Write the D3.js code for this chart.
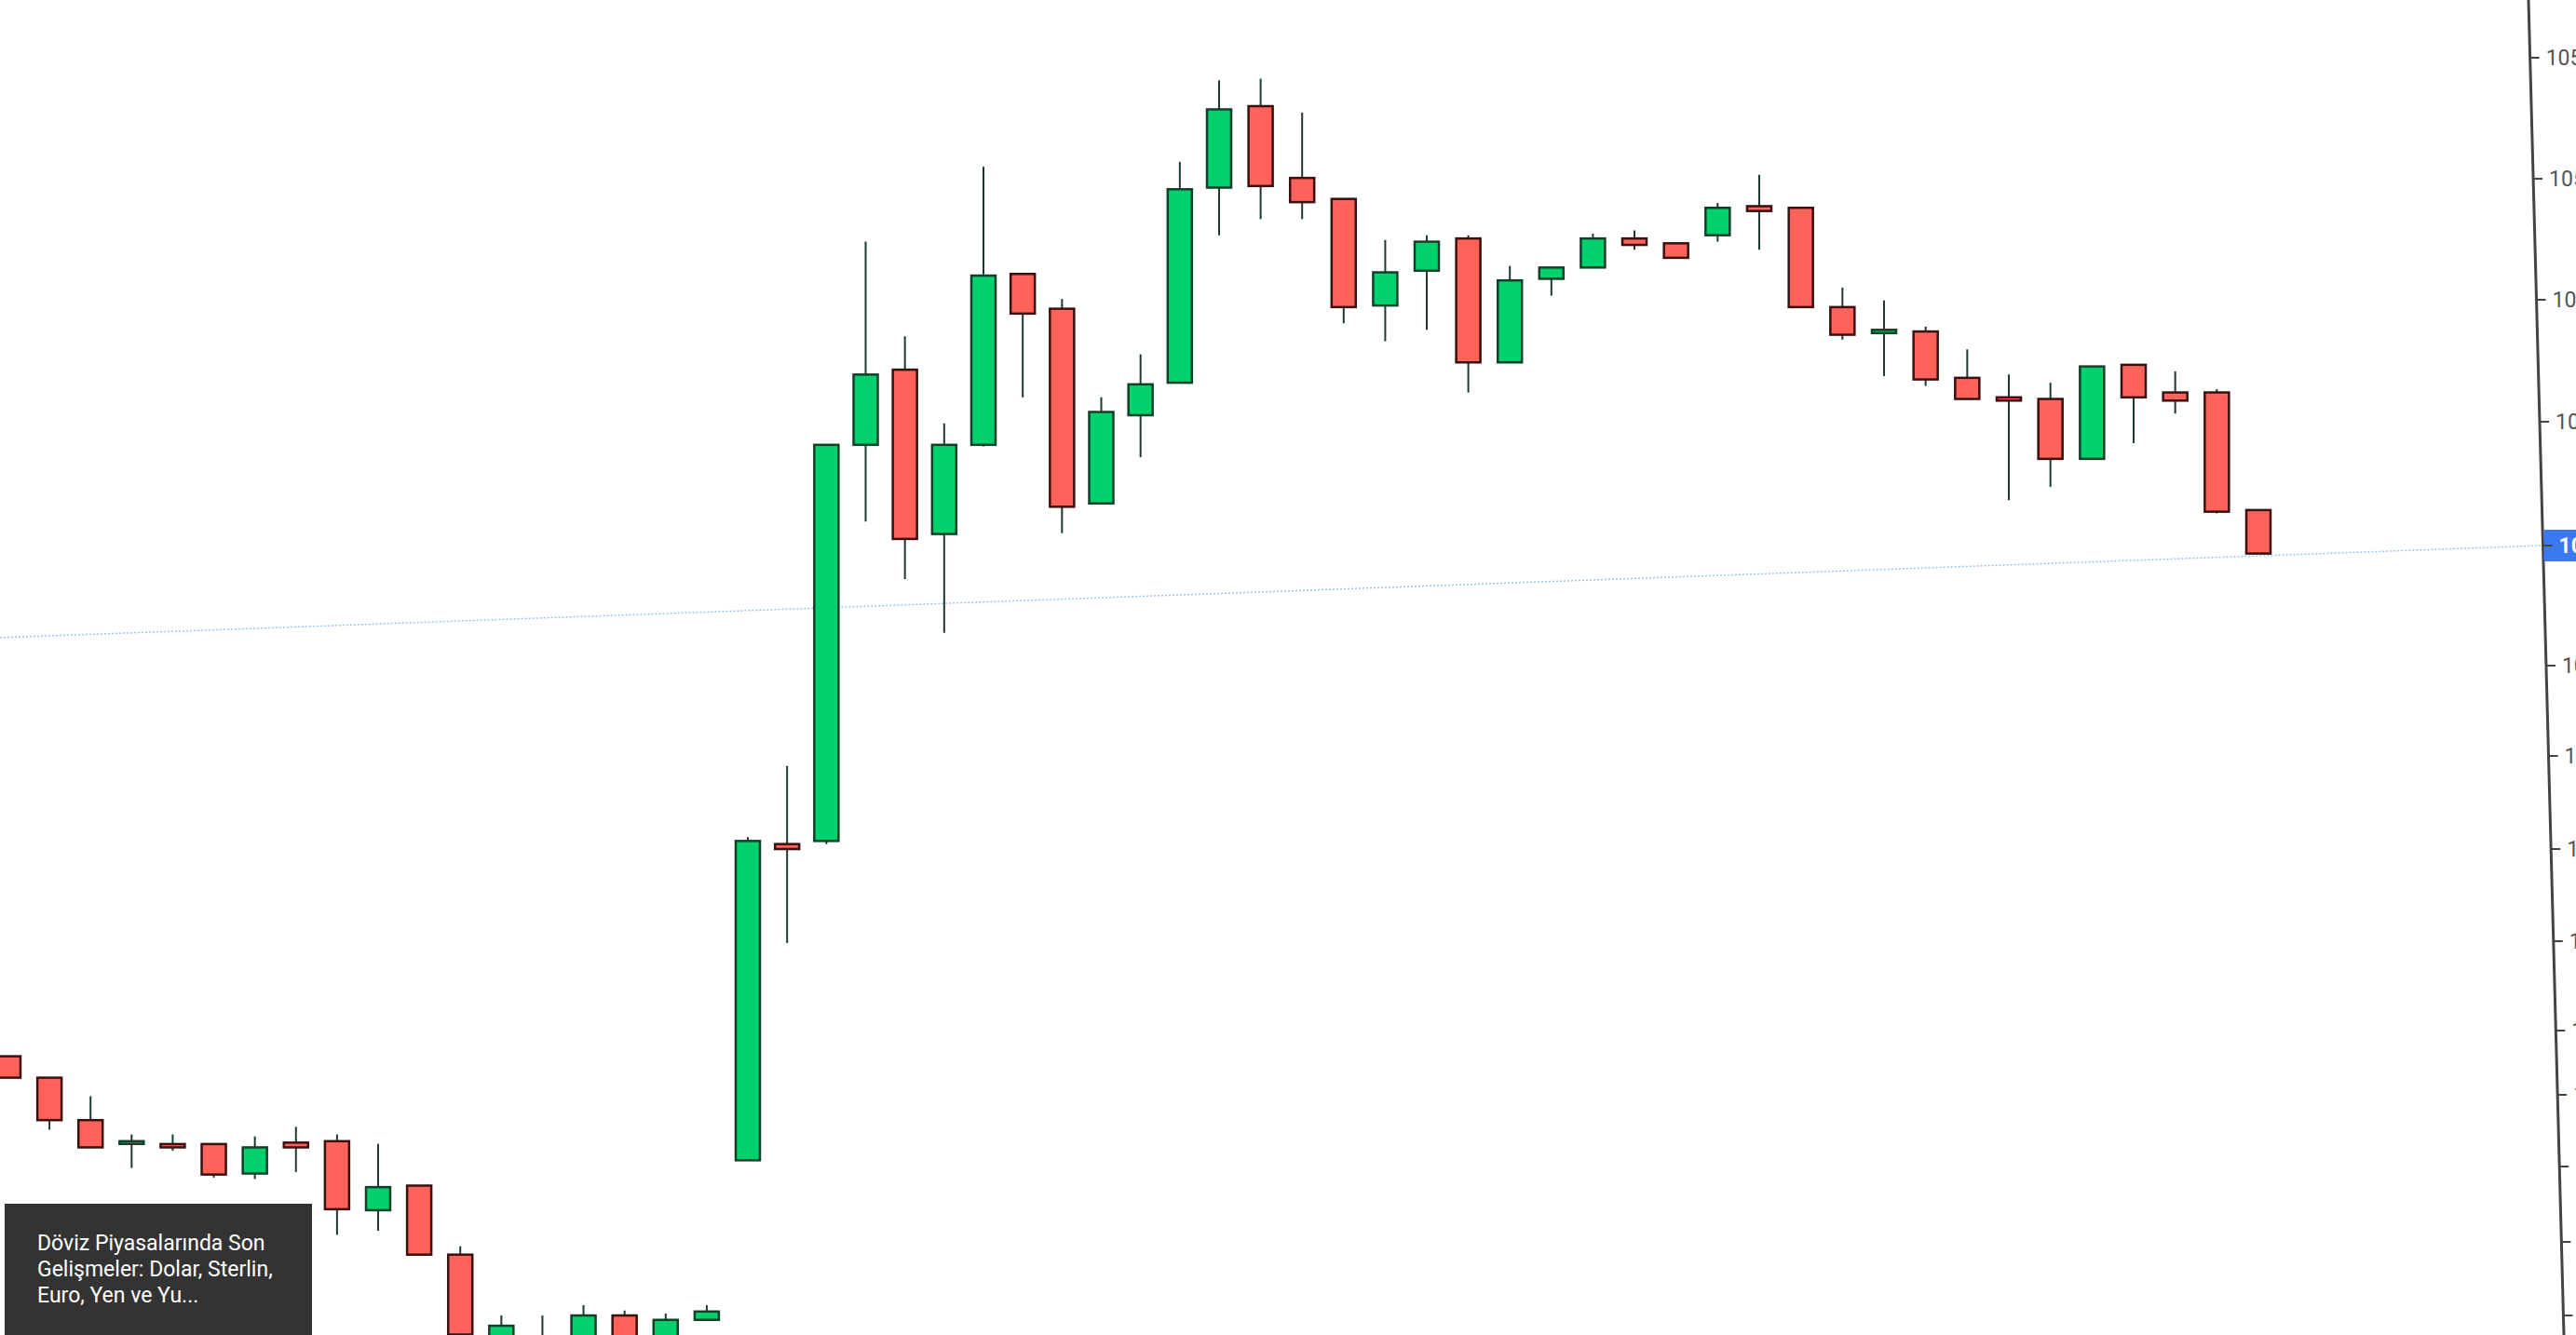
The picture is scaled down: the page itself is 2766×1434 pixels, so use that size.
<!DOCTYPE html>
<html>
<head>
<meta charset="utf-8">
<script src="https://cdn.jsdelivr.net/npm/d3@7"></script>
<style>
  body { margin: 0; background: #fff; overflow: hidden; }
</style>
</head>
<body>
<script>
var W = 2766, H = 1434;

// candle data: open, high, low, close
var opens  = [103.94,103.89,103.797,103.75,103.747,103.747,103.686,103.75,103.753,103.613,103.662,103.524,103.357,103.357,103.344,103.40,103.344,103.391,103.713,104.308,104.313,104.872,104.964,104.764,104.872,105.082,105.039,104.801,104.908,104.948,105.189,105.29,105.201,105.175,105.043,105.086,105.126,104.973,105.076,105.09,105.126,105.12,105.13,105.166,105.164,105.041,105.009,105.011,104.954,104.93,104.928,104.855,104.97,104.936,104.936,104.793];
var highs  = [103.94,103.89,103.847,103.767,103.767,103.747,103.763,103.783,103.767,103.747,103.662,103.541,103.40,103.40,103.421,103.41,103.404,103.421,104.319,104.434,104.872,105.122,105.005,104.898,105.215,105.082,105.051,104.93,104.983,105.221,105.322,105.324,105.282,105.175,105.124,105.13,105.13,105.092,105.09,105.132,105.136,105.12,105.17,105.205,105.164,105.065,105.049,105.017,104.989,104.958,104.948,104.968,104.97,104.962,104.94,104.793];
var lows   = [103.89,103.777,103.74,103.697,103.733,103.678,103.675,103.689,103.564,103.572,103.524,103.344,103.344,103.336,103.336,103.336,103.336,103.391,103.713,104.147,104.308,104.779,104.708,104.641,104.87,104.93,104.765,104.801,104.857,104.948,105.13,105.15,105.15,105.021,104.999,105.013,104.936,104.973,105.055,105.09,105.112,105.102,105.122,105.112,105.041,105.001,104.956,104.944,104.928,104.805,104.821,104.855,104.874,104.91,104.789,104.74];
var closes = [103.89,103.797,103.74,103.753,103.74,103.684,103.74,103.74,103.615,103.659,103.524,103.361,103.379,103.344,103.40,103.344,103.391,103.408,104.313,104.30,104.872,104.958,104.758,104.872,105.08,105.033,104.797,104.912,104.946,105.187,105.286,105.191,105.171,105.041,105.084,105.122,104.973,105.074,105.09,105.126,105.118,105.102,105.164,105.16,105.041,105.007,105.013,104.952,104.928,104.926,104.855,104.968,104.93,104.926,104.791,104.74];

var tickValues = [105.35,105.20,105.05,104.90,104.75,104.60,104.45,104.30,104.15,104.00,103.85,103.70,103.55,103.40];
var tickPixels = [62,192,322,453,586,715,812,912,1011,1107,1176,1253,1334,1413];
var lastPrice = 104.75, lineLeftPrice = 104.635;
var tooltipLines = ["Döviz Piyasalarında Son", "Gelişmeler: Dolar, Sterlin,", "Euro, Yen ve Yu..."];

var svg = d3.select("body").append("svg")
  .attr("width", W).attr("height", H);

// photo perspective: index spacing is not quite uniform
var x = d3.scaleLinear().domain([0, 18, 30, 40, 55]).range([9, 803, 1309, 1755, 2425]);
var y = d3.scaleLinear().domain(tickValues).range(tickPixels);

// slanted axis like the reference
function axisX(py) { return 2715 + 38 * py / H; }

var candles = opens.map(function (o, i) {
  return { o: o, h: highs[i], l: lows[i], c: closes[i], i: i };
});

// current price line
svg.append("line")
  .attr("x1", 0).attr("y1", y(lineLeftPrice))
  .attr("x2", axisX(y(lastPrice))).attr("y2", y(lastPrice))
  .attr("stroke", "#9cc0f0").attr("stroke-width", 1.5)
  .attr("stroke-dasharray", "2,2");

var g = svg.selectAll("g.candle").data(candles).enter().append("g").attr("class", "candle");

g.append("line")
  .attr("x1", function (d) { return x(d.i); })
  .attr("x2", function (d) { return x(d.i); })
  .attr("y1", function (d) { return y(d.h); })
  .attr("y2", function (d) { return y(d.l); })
  .attr("stroke", "#1d3b2a").attr("stroke-width", 2);

g.append("rect")
  .attr("x", function (d) { return x(d.i) - 13; })
  .attr("width", 26)
  .attr("y", function (d) { return y(Math.max(d.o, d.c)); })
  .attr("height", function (d) { return Math.max(3, Math.abs(y(d.o) - y(d.c))); })
  .attr("fill", function (d) { return d.c >= d.o ? "#00d16d" : "#ff6259"; })
  .attr("stroke", function (d) { return d.c >= d.o ? "#11402a" : "#3a0f0f"; })
  .attr("stroke-width", 2.5);

// axis
svg.append("line")
  .attr("x1", axisX(0)).attr("y1", 0).attr("x2", axisX(H)).attr("y2", H)
  .attr("stroke", "#444").attr("stroke-width", 3);

var ticks = svg.selectAll("g.tick").data(tickValues).enter().append("g").attr("class", "tick");

ticks.filter(function (d) { return d === lastPrice; }).append("rect")
  .attr("x", function (d) { return axisX(y(d)) + 1; })
  .attr("y", function (d) { return y(d) - 17; })
  .attr("width", 80).attr("height", 34)
  .attr("fill", "#3b78f2");

ticks.append("line")
  .attr("x1", function (d) { return axisX(y(d)); })
  .attr("x2", function (d) { return axisX(y(d)) + 10; })
  .attr("y1", function (d) { return y(d); })
  .attr("y2", function (d) { return y(d); })
  .attr("stroke", "#444").attr("stroke-width", 2);

ticks.append("text")
  .attr("x", function (d) { return axisX(y(d)) + 17; })
  .attr("y", function (d) { return y(d); })
  .attr("dominant-baseline", "central")
  .attr("font-family", "Roboto, sans-serif")
  .attr("font-size", 23)
  .attr("font-weight", function (d) { return d === lastPrice ? "bold" : "normal"; })
  .attr("fill", function (d) { return d === lastPrice ? "#fff" : "#555"; })
  .text(function (d) { return d.toFixed(2); });

// tooltip box
svg.append("rect")
  .attr("x", 5).attr("y", 1293).attr("width", 330).attr("height", 141)
  .attr("fill", "#333");

svg.append("text")
  .attr("font-family", "Roboto, sans-serif")
  .attr("font-size", 23)
  .attr("fill", "#fff")
  .selectAll("tspan").data(tooltipLines).enter().append("tspan")
  .attr("x", 40)
  .attr("y", function (d, i) { return 1343 + i * 28; })
  .text(function (d) { return d; });
</script>
</body>
</html>
